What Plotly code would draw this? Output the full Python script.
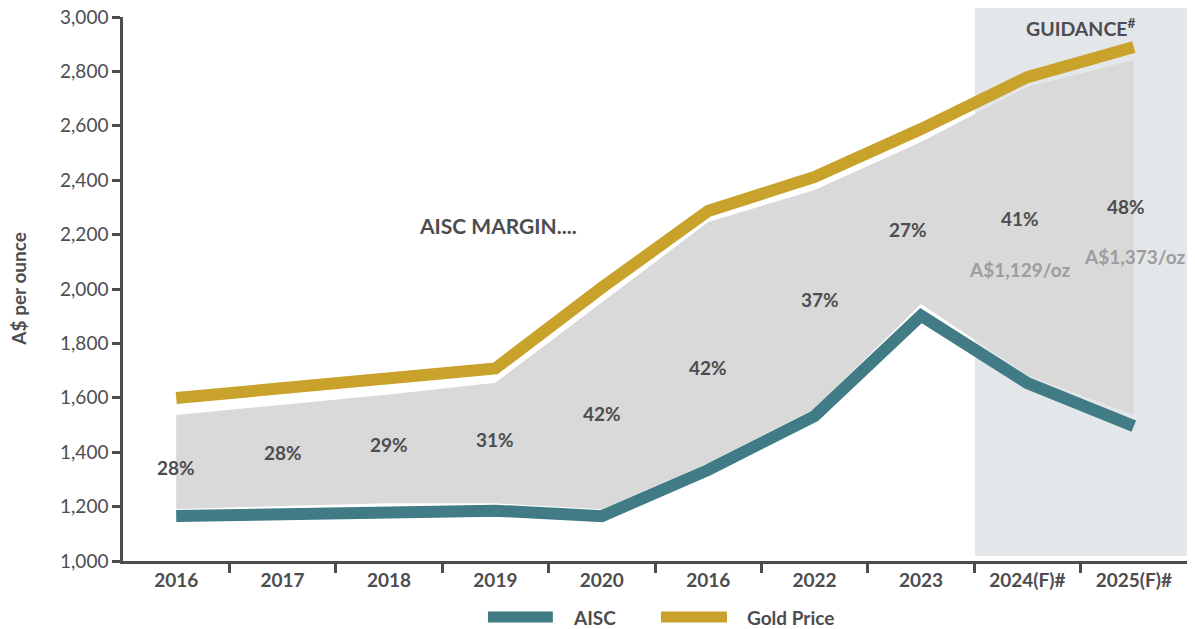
import plotly.graph_objects as go

# category labels (note: the source repeats "2016" in the sixth slot)
years = ["2016", "2017", "2018", "2019", "2020", "2016", "2022", "2023", "2024(F)#", "2025(F)#"]
gold_price = [1599, 1636, 1672, 1708, 2005, 2287, 2412, 2588, 2779, 2890]
aisc = [1165, 1175, 1185, 1185, 1165, 1335, 1533, 1902, 1654, 1496]
# grey margin band (sits inside the two lines)
band_top = [1537, 1575, 1612, 1655, 1952, 2246, 2364, 2540, 2743, 2842]
band_bottom = [1191, 1202, 1212, 1212, 1190, 1360, 1560, 1945, 1684, 1537]
margin_pct = ["28%", "28%", "29%", "31%", "42%", "42%", "37%", "27%", "41%", "48%"]
margin_y = [1345, 1400, 1430, 1445, 1544, 1710, 1963, 2217, 2261, 2305]
margin_dx = [0, 0, 0, 0, 0, 0, 0.05, -0.12, -0.07, -0.07]
oz_labels = ["A$1,129/oz", "A$1,373/oz"]
oz_y = [2070, 2121]

TEXT = "#4d4d4f"
GOLD = "#c9a22c"
TEAL = "#417b85"
FONT = "Lato"

xs = list(range(len(years)))

fig = go.Figure()

# margin band
fig.add_trace(go.Scatter(
    x=xs + xs[::-1],
    y=band_top + band_bottom[::-1],
    fill="toself",
    fillcolor="#d9d9d9",
    line=dict(width=0),
    mode="lines",
    hoverinfo="skip",
    showlegend=False,
))

fig.add_trace(go.Scatter(
    x=xs, y=aisc, mode="lines", name="AISC", showlegend=False,
    line=dict(color=TEAL, width=12),
))
fig.add_trace(go.Scatter(
    x=xs, y=gold_price, mode="lines", name="Gold Price", showlegend=False,
    line=dict(color=GOLD, width=12),
))

# guidance backdrop
fig.add_shape(
    type="rect", xref="paper", yref="paper",
    x0=0.8008, x1=1.003, y0=0.009, y1=1.018,
    fillcolor="#e4e7ea", line=dict(width=0), layer="below",
)

for i, (t, y) in enumerate(zip(margin_pct, margin_y)):
    fig.add_annotation(
        x=xs[i] + margin_dx[i], y=y, text="<b>" + t + "</b>", showarrow=False,
        font=dict(family=FONT, size=19, color=TEXT),
    )

for i, (t, y) in enumerate(zip(oz_labels, oz_y)):
    fig.add_annotation(
        x=xs[8 + i] - 0.07 + 0.08 * i, y=y, text="<b>" + t + "</b>", showarrow=False,
        font=dict(family=FONT, size=19, color="#9d9d9d"),
    )

fig.add_annotation(
    x=3.02, y=2235, text="<b>AISC MARGIN....</b>", showarrow=False,
    font=dict(family=FONT, size=21, color=TEXT),
)
fig.add_annotation(
    x=8.5, y=3000, yshift=-10, text="<b>GUIDANCE<sup>#</sup></b>", showarrow=False,
    font=dict(family=FONT, size=19.5, color=TEXT),
)

# y axis title
fig.add_annotation(
    xref="paper", yref="paper", x=-0.099, y=0.5, xanchor="center", yanchor="middle",
    text="<b>A$ per ounce</b>", textangle=-90, showarrow=False,
    font=dict(family=FONT, size=19, color=TEXT),
)

# legend drawn by hand so the swatches are as long as in the source
legend_items = [("AISC", TEAL, 0.343, 0.404), ("Gold Price", GOLD, 0.5056, 0.5677)]
for name, color, x0, x1 in legend_items:
    fig.add_shape(type="line", xref="paper", yref="paper",
                  x0=x0, x1=x1, y0=-0.103, y1=-0.103,
                  line=dict(color=color, width=11))
    fig.add_annotation(xref="paper", yref="paper", x=x1 + 0.017, y=-0.103,
                       xanchor="left", yanchor="middle", showarrow=False,
                       text="<b>" + name + "</b>",
                       font=dict(family=FONT, size=19, color=TEXT))

# the page puts the figure 8px in from the window corner
fig.update_layout(
    width=1187, height=621,
    margin=dict(l=115, r=8, t=9, b=68),
    paper_bgcolor="white", plot_bgcolor="rgba(0,0,0,0)",
    font=dict(family=FONT, color=TEXT),
    showlegend=False,
    xaxis=dict(
        range=[-0.5, 9.5], automargin=False,
        tickvals=xs, ticktext=["<b>" + y + "</b>" for y in years],
        ticks="", showgrid=False, zeroline=False,
        showline=True, linecolor=TEXT, linewidth=2.5,
        tickfont=dict(family=FONT, size=19, color=TEXT),
        minor=dict(tickvals=[i + 0.5 for i in xs[:-1]], ticks="outside",
                   ticklen=9, tickwidth=2.5, tickcolor=TEXT, showgrid=False),
    ),
    yaxis=dict(
        range=[1000, 3000], dtick=200, tickformat=",", automargin=False,
        ticklabeloverflow="allow",
        ticks="outside", ticklen=8, tickwidth=2.5, tickcolor=TEXT,
        showgrid=False, zeroline=False,
        showline=True, linecolor=TEXT, linewidth=2.5,
        tickfont=dict(family=FONT, size=19, color=TEXT),
    ),
)

fig.write_html("out.html")
